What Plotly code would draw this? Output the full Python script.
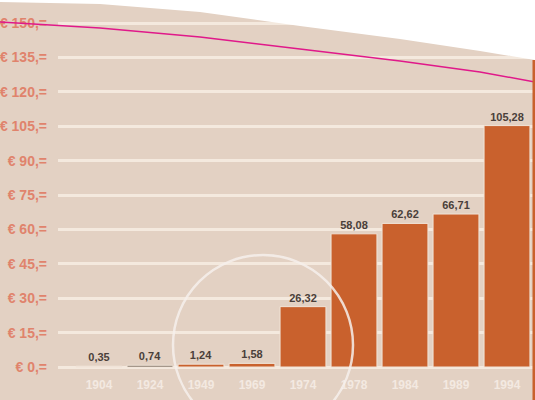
import plotly.graph_objects as go

years = ["1904", "1924", "1949", "1969", "1974", "1978", "1984", "1989", "1994"]
prices = [0.35, 0.74, 1.24, 1.58, 26.32, 58.08, 62.62, 66.71, 105.28]
y_ticks = [0, 15, 30, 45, 60, 75, 90, 105, 120, 135, 150]
y_ticktext = ["€ %d,=" % v for v in y_ticks]
bar_colors = ["#ecd6d0", "#5b4a3c", "#c9612d", "#c9612d", "#c9612d",
              "#c9612d", "#c9612d", "#c9612d", "#c9612d"]

W, H = 535, 400
ML = 58
PW = W - ML

def px(x):
    return (x - ML) / PW

def py(y):
    return 1 - y / H

xpos = list(range(len(years)))
labels = [("%.2f" % v).replace(".", ",") for v in prices]

fig = go.Figure()
fig.add_trace(go.Bar(
    x=xpos, y=prices, width=0.9,
    marker=dict(color=bar_colors, line=dict(color="#f1e4d8", width=1)),
    text=labels, textposition="outside", cliponaxis=False,
    textfont=dict(family="Liberation Sans, Arial", size=11, color="#4a3f3a", weight="bold"),
    hoverinfo="skip",
))

# white top region (curved edge of the scanned page)
edge = [(0, 2), (100, 4), (200, 12), (300, 26), (400, 39), (480, 51), (535, 60)]
path = "M %f,%f " % (px(0), py(-5))
for (x, y) in edge:
    path += "L %f,%f " % (px(x), py(y))
path += "L %f,%f Z" % (px(540), py(-5))
shapes = [dict(type="path", xref="paper", yref="paper", path=path,
               fillcolor="white", line=dict(width=0), layer="above")]

# magenta curve
mline = [(0, 22), (100, 28), (200, 37), (300, 49), (400, 61), (480, 72), (535, 82)]
mp = "M " + " L ".join("%f,%f" % (px(x), py(y)) for x, y in mline)
shapes.append(dict(type="path", xref="paper", yref="paper", path=mp,
                   line=dict(color="#e0198a", width=1.5), layer="above"))

# right orange edge strip
shapes.append(dict(type="rect", xref="paper", yref="paper",
                   x0=px(532.5), x1=px(536), y0=py(400), y1=py(60),
                   fillcolor="#c9612d", line=dict(width=0), layer="above"))

# light circle outline
cx, cy, r = 263, 345, 90
shapes.append(dict(type="circle", xref="paper", yref="paper",
                   x0=px(cx - r), x1=px(cx + r), y0=py(cy + r), y1=py(cy - r),
                   line=dict(color="rgba(246,240,236,0.85)", width=2.5), layer="above"))

fig.update_layout(
    width=W, height=H,
    margin=dict(l=ML, r=0, t=0, b=0),
    paper_bgcolor="#e3d1c3",
    plot_bgcolor="#e3d1c3",
    showlegend=False,
    bargap=0.1,
    shapes=shapes,
    xaxis=dict(
        range=[-0.804, 8.549], tickvals=xpos, ticktext=years,
        showgrid=False, zeroline=False, showline=False, ticks="",
        ticklabelposition="inside", ticklabelstandoff=6,
        tickfont=dict(family="Liberation Sans, Arial", size=12, color="#f3e9e1", weight="bold"),
    ),
    yaxis=dict(
        range=[-14.39, 160.05], tickvals=y_ticks, ticktext=y_ticktext,
        showgrid=True, gridcolor="#f4e9de", gridwidth=2.5,
        zeroline=False, showline=False, ticks="", ticklabelstandoff=10,
        tickfont=dict(family="Liberation Sans, Arial", size=14, color="#e0836c", weight="bold"),
    ),
)

fig.write_html("out.html", config={"displayModeBar": False},
               post_script="document.body.style.margin='0';document.body.style.overflow='hidden';")
